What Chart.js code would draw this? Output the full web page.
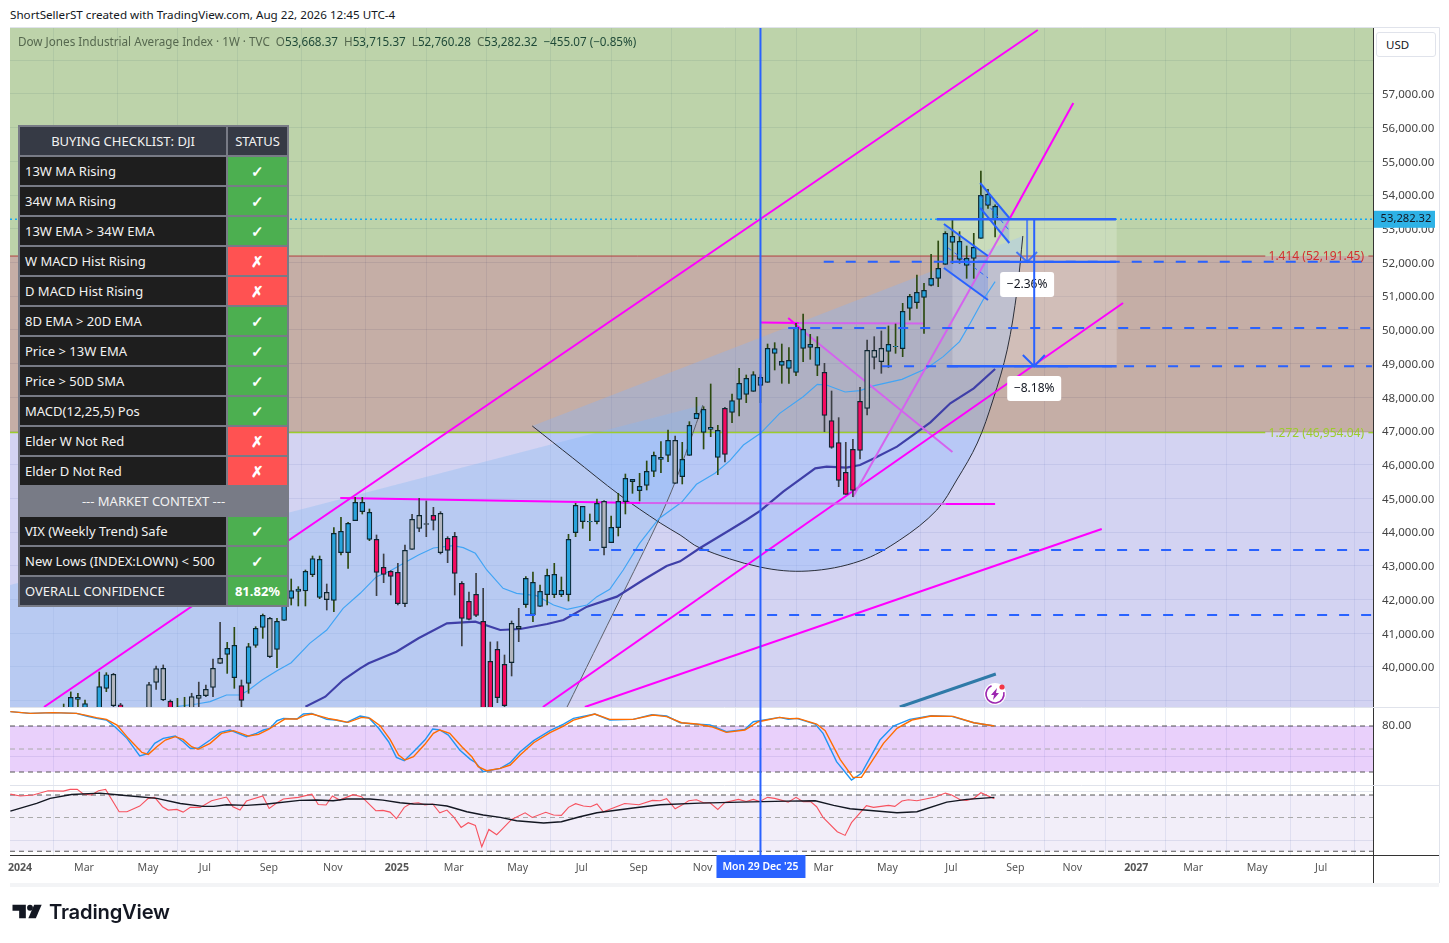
<!DOCTYPE html>
<html>
<head>
<meta charset="utf-8">
<title>DJI weekly</title>
<script src="https://cdn.jsdelivr.net/npm/chart.js@4"></script>
<style>
    html, body { margin: 0; padding: 0; background: #fff; width: 1449px; height: 943px; overflow: hidden; }
    body { font-family: "Noto Sans", sans-serif; position: relative; }
    canvas { position: absolute; left: 0; top: 0; }
    .frame { position: absolute; left: 10px; top: 883px; width: 1429px; height: 4px; background: #f3f4f6; }
    .topline { position: absolute; left: 10px; top: 7px; font-size: 11.65px; color: #131722; white-space: nowrap; }
    .legend { position: absolute; left: 18px; top: 33px; font-size: 11.7px; color: #56684f; white-space: nowrap; z-index: 2; }
    .legend b { font-weight: 400; color: #1f4a38; }
    .legend span { margin-left: 6px; }
    .usd { position: absolute; left: 1376px; top: 32px; width: 58px; height: 23px; border: 1px solid #e0e3eb; border-radius: 3px; background: #fff;
        font-size: 11.5px; line-height: 23px; color: #131722; text-indent: 9px; z-index: 2; }
    .logo { position: absolute; left: 12px; top: 899px; display: flex; align-items: center; z-index: 2; }
    .logo span { font-family: Inter, sans-serif; font-weight: 600; font-size: 20.2px; color: #131722; margin-left: 6px; letter-spacing: -0.2px; }
    table.check { position: absolute; left: 18px; top: 125px; width: 269px; border-collapse: collapse; table-layout: fixed; background: #787b86; z-index: 3;
        font-size: 13px; color: #f2f2f2; }
    table.check td { border: 2px solid #787b86; height: 28px; padding: 0 0 0 5px; white-space: nowrap; box-sizing: content-box; }
    table.check td.s { text-align: center; padding: 0; color: #fff; font-weight: 700; font-size: 15px; }
    table.check .head { background: #363a45; text-align: center; padding: 0; }
    table.check .row { background: #1e1e1e; }
    table.check .ok { background: #4caf50; }
    table.check .no { background: #ff5252; }
    table.check .sect { background: #787b86; text-align: center; padding: 0; }
    table.check .total { background: #363a45; }
</style>
</head>
<body>
<div class="topline">ShortSellerST created with TradingView.com, Aug 22, 2026 12:45 UTC-4</div>
<div class="legend">Dow Jones Industrial Average Index · 1W · TVC<span>O<b>53,668.37</b></span><span>H<b>53,715.37</b></span><span>L<b>52,760.28</b></span><span>C<b>53,282.32</b></span><span><b>−455.07 (−0.85%)</b></span></div>
<div class="usd">USD</div>
<div class="frame"></div>
<div class="logo">
    <svg width="31" height="15" viewBox="0 0 36 18"><path d="M0 1h16v16H8V8H0z" fill="#131722"/><circle cx="21" cy="4.5" r="3.5" fill="#131722"/><path d="M35 1l-7 16h-9l7-16z" fill="#131722"/></svg>
    <span>TradingView</span>
</div>
<table class="check" id="checklist"></table>
<canvas id="chart" width="1449" height="943"></canvas>
<script>
// weekly candles, index 0 = Mon 1 Jan 2024
const opens = [37400,37500,37700,37900,38000,38200,38400,38720,39040,38700,38300,38620,39365,38851,38880,38400,38100,38300,38600,39544,39020,38980,38500,38600,38620,39070,39150,39395,40108,40374,39682,39445,39514,40642,41176,40305,40523,41383,42036,42244,42254,42738,42066,41997,41977,43391,43391,44340,44607,43787,43787,42956,42838,42808,41878,43490,44113,44232,44351,44558,43461,43876,42482,41947,42155,41354,40167,40523,40078,40128,41136,41849,41552,41799,42145,42145,42145,42145,43985,44311,44301,44311,43540,43688,44133,44904,45498,45231,45389,45805,46161,46279,45449,45646,46279,47367,46962,47051,47021,46309,47555,47941,48089,48178,48356,48445,49306,48950,48861,48742,49454,49484,49484,48742,47308,46655,45775,46457,46427,47674,49187,49059,49365,49500,49444,50641,50809,50967,51323,51531,51946,52599,52095,51917,52125,52718,53697,53668];
const highs = [37800,37900,38100,38300,38500,38700,38900,39260,39220,39020,38700,39850,39830,39810,38920,38700,38500,38700,39544,40028,40060,39020,39070,39100,39220,39550,39465,40236,41324,40730,41176,39613,40700,41195,41571,41472,41443,42115,42610,42382,42877,43292,43292,42461,44133,44439,44291,45033,45033,44687,43916,43352,42857,43075,43619,44529,45003,44924,44736,44608,43866,43995,42531,42224,42778,42333,40741,40751,40355,41364,41740,42680,42818,42432,42907,43075,42669,43935,44855,44766,44539,44984,44934,44479,45152,45725,45567,45745,46111,46378,46685,47031,46853,46665,47278,48000,47723,48396,47169,47703,48099,48861,48663,48762,48670,49582,49622,49582,49474,50196,50473,49869,49800,49009,48188,47397,46665,46754,48297,49701,49800,49969,50117,50176,50789,51056,51630,51383,52243,52639,52916,53262,52916,52490,52866,54716,54172,53715];
const lows = [37100,37200,37500,37700,37800,38000,38200,38500,38700,38500,38100,38400,39267,38820,38200,38100,37800,38000,38400,39336,39000,38400,38300,38400,38400,38820,39120,39120,40108,39810,39366,38822,39218,40582,40849,40276,39979,41383,41838,41809,41809,42679,42026,41690,41640,43322,42926,44340,44538,43747,42116,42501,42135,41839,41789,43490,44014,43866,44064,43352,43095,42135,40622,41394,41492,38000,38200,38941,38800,39732,40751,41770,41344,41799,41839,42056,42086,41957,43866,44113,43747,44242,43322,43688,43886,44539,45152,44924,45251,45646,45765,46091,45449,45429,46279,47367,46467,46833,45706,46081,47248,47446,47842,48178,47842,48445,48811,48416,48416,48643,49058,49128,48643,46981,46487,45350,45122,45053,46170,47476,48841,48713,48890,49306,49207,50295,50641,49899,51304,51284,51946,51976,51976,51531,51531,52718,53608,52760];
const closes = [37500,37700,37900,38100,38300,38500,38600,39100,39100,38910,38600,39415,39770,39781,38400,38200,38300,38500,39475,39950,39960,38620,38700,38750,39120,39160,39336,39960,40256,40553,40642,39010,40602,41146,41532,41443,41354,42026,42264,42313,42837,43213,43193,42214,43965,44024,44261,44884,44884,44588,42808,42749,42689,41878,43461,44380,44499,44252,44499,43391,43817,42778,41443,41413,41532,38500,38500,39089,38852,41295,41206,42630,42511,42244,42719,42749,42274,43787,44796,44766,44321,44855,44914,44143,44914,45597,45567,45360,45805,46279,46220,46724,46724,46161,47169,47525,47644,47110,46220,47674,47901,48415,48564,48673,48594,49454,49444,49068,49098,50077,50018,49573,48950,47466,46517,45538,45122,45241,47881,49395,49395,49454,49573,49513,50552,50997,51116,51175,51531,51828,52866,52777,52629,52125,52451,53994,54023,53282];
// candle colouring from the strength script: b = strong, r = weak, g = neutral
const candleState = 'bbbbbbbbbbbbbgrrbbgggrbbgggggbbrbbbgbbbbbbbgbbbbbbrrrrggggrgrrrrrrrrrggbbbbbbbbbbbgbbbbbbbbbgbbbbbbrbbbbbbbbbbbbbrrrrrrgggbbbbbbbbbbbbbbbbbb'.split('');

// 13W and 34W averages, [week, price]
const ma13Weeks = [21.9,24.7,26.6,28.9,30.8,31.9,33.9,36,38,40.6,43,45.3,47.7,50,51.9,53.8,55.9,58,60.8,62.2,63.9,65.5,67.8,69.7,72.5,74.9,76.8,79.6,81,82.8,84.7,87,89.7,92.9,95,97.6,99.7,101.6,104,106.7,110,112,113.3,115.9,118,120,123.9,127.4,129.7,132,133.5,135.3,137];
const ma13Values = [38822,38901,38970,39168,39168,39297,39613,39890,40127,40701,41097,41740,42185,42679,42848,43075,43322,43530,43599,43540,43372,42877,42333,42185,42116,41839,41710,41839,42086,42303,42877,43668,44400,44885,45419,45745,46121,46586,46932,47525,48020,48386,48366,48158,48198,48346,48534,48860,49207,49652,50196,50888,51432];
const ma34Weeks = [40,42.8,45.3,47.7,48.9,52.8,55.9,59.9,63.9,67.4,70.2,74,76.3,79.6,83.8,87.5,90.8,92.7,95.5,99.7,102,104,107.2,111.7,113.3,116.1,118,120,123.2,125.5,127.9,130.7,134,137];
const ma34Values = [38822,39118,39613,39960,40108,40454,40850,41295,41344,41097,41127,41275,41394,41789,42086,42580,42996,43135,43530,44064,44361,44638,45201,45894,45943,45913,45992,46191,46537,46883,47259,47822,48267,48841];

// stochastic pane
const stochFastWeeks = [-1.5,1.3,4.5,7.8,9.2,10.6,12,13.2,14.9,16.7,17.7,18.8,20,21.7,22.8,23.8,24.9,26.6,28,29.4,31.7,33.1,34.1,35,36,36.9,38.8,39.7,40.9,43,44.2,45.8,47.7,48.9,50.3,51.7,52.8,53.9,55.2,56.8,57.9,58.9,60.1,61.7,63.2,63.9,65,67.4,68.8,70.2,72.1,74.4,76.3,77.7,80.7,82.8,86.1,88.7,90.8,92.7,94.6,96.9,99.2,101.8,103,103.9,106.7,107.9,109.1,111.7,112.8,114.7,116.8,118.2,120.8,122.7,125,128,130.9,134,136.9];
const stochFast = [98.7,96.5,97.4,96.5,93,90,87.8,79.1,63.9,40.9,43.5,57.4,63.9,66.9,59.5,50.9,50.9,61.7,71.7,74.8,66.1,70.4,74.8,76.9,86.9,90,89.1,95.6,96.5,88.7,87.8,84.8,93,90.9,77,59.5,39.1,34.8,46.5,61.7,76.1,74.8,68.2,48.7,36.5,32.6,20.4,24.8,32.2,46.5,60.9,73.9,82.6,90,95.6,87.8,88.7,94.8,93,84.3,82.6,81.3,72.6,75.6,85.6,86.9,91.3,88.7,90,82.6,70.4,33.5,9.5,18.2,61.7,80,88.7,93.5,92.6,84.3,80];
const stochSlowWeeks = [-1.5,1.3,4.5,7.8,9.2,10.6,12,13.5,15.1,17,17.9,19.1,20.3,21.7,22.8,24,24.9,26.6,28.2,29.9,32,33.4,34.8,36,37.1,38.8,39.9,40.9,43.2,44.4,46,47.9,49.1,50.5,51.9,53.1,54,55.2,56.8,58,58.9,60.3,62,63.4,64.3,65.5,67.4,68.8,70.2,72.1,74.4,76.3,77.7,80.7,82.8,86.1,88.9,90.8,92.9,95,97.1,99.2,101.8,103.7,104.9,106.7,108.1,109.3,111.9,113.1,115.2,117,118.2,121.3,123.2,125.3,128,131.1,134,136.9];
const stochSlow = [98.7,96.5,97.4,96.5,93.9,90.9,88.7,81.3,63.9,45.6,43,53,61.7,66.1,62.6,53,49.6,57.4,70.4,73.9,66.9,69.1,75.6,82.6,89.1,89.1,93.9,95.6,90,87.8,84.8,91.3,90,80.4,62.6,42.2,35.6,40,56.1,70.4,74.8,70.4,53,40,27,21.7,24.8,29.1,42.2,58.2,71.3,80,87.8,95.6,88.7,88.7,94.3,92.2,84.3,82.6,79.1,71.7,74.8,85.6,87.8,91.3,89.6,90,82.6,73.9,36.5,13,13,57.4,76.9,87.8,93,92.6,84.3,80];

// RSI pane
const rsiWeeks = [-1.5,-0.1,1.7,3.8,5.95,6.9,7.9,8.8,9.9,10.9,11.9,13.8,14.9,16.7,17.9,18.8,19.9,20.7,21.9,22.8,23.8,25.2,26.8,28.9,29.8,30.8,31.7,34,34.9,36,36.9,39,40.9,41.8,42.9,43.8,44.8,46.7,47.9,49.9,50.9,51.9,52.8,53.9,54.8,55.9,56.8,57.9,58.9,59.9,60.9,61.9,62.9,63.9,64.8,65.8,66.9,67.4,69,70.9,71.9,73.8,74.9,76,77,78,79.1,80.1,81,81.9,84.9,86.9,88.8,89.9,90.8,92,92.9,93.9,95,96,96.9,98,99,100.9,102,103,103.9,105,106,107.9,109,110,111,111.9,112.8,114.8,115.9,116.8,118.9,119.9,122,122.9,123.9,124.8,126,128.6,130,130.9,132.1,133,134,135,136.9];
const rsiValues = [70.8,69.1,70,73.8,73.5,75,75,70.8,70,73.8,75,55.1,55.1,60.2,67,67.9,59.6,56.6,57.2,54.8,59,59,64.9,68.2,59.6,56.6,64.6,69.1,58.1,63.1,66.4,67.9,70.8,61.6,61.1,69.1,65.5,70.3,68.5,56,56.3,54.8,48.9,59,62.5,63.1,61.1,62,54.2,56.6,50.1,41.2,45.4,43,24,39.4,34.7,38,48.3,54.2,50.1,54.6,52.2,51.9,59,62.3,60.2,59.6,62,55.1,62.5,61.4,65.2,64.9,66.7,57.8,60.8,64.9,65.8,63.1,63.1,57.2,63.4,66.1,64.3,66.1,64.3,67.9,67,63.7,67.9,64,64.3,59.6,50.1,37.4,34.1,45.4,60.5,59,60.8,59.9,64.6,65.8,64.9,68.2,71.7,70,65.8,65.2,67,72,66.7];
const rsiAvgWeeks = [-1.5,2.2,4.1,7.1,11.1,13.9,19.1,22.4,25.6,27.1,28.9,31.7,34.6,39.2,41.6,43.9,45.8,49.1,50.9,53.3,55.2,58,59.9,62.7,65,67.4,69.7,73.5,76,78.6,81,86.1,89.9,95.5,101.1,107.7,111.7,114.3,116.6,119.9,123.2,126,130.2,133,136.9];
const rsiAvg = [55.7,62.5,67,70.5,71.7,70,67,62.5,59.9,59.9,61.4,60.8,62,65.2,65.5,64.9,66.4,66.4,65.5,63.1,62,61.7,60.2,55.1,52.2,50.1,47.1,45.1,46.2,50.7,54.2,58.4,61.4,62.8,63.7,64.6,64.9,60.8,57.8,56,54.2,55.1,63.7,66.1,67.9];

// axis ticks
const tickWeeks = [0,9,18,26,35,44,53,61,70,79,87,96,105,113,122,131,140,148,157,165,174,183];
const tickLabels = ['2024','Mar','May','Jul','Sep','Nov','2025','Mar','May','Jul','Sep','Nov','2026','Mar','May','Jul','Sep','Nov','2027','Mar','May','Jul'];
const priceTicks = [39000,40000,41000,42000,43000,44000,45000,46000,47000,48000,49000,50000,51000,52000,53000,54000,55000,56000,57000,58000];

// fib levels and last price
const fib1414 = 52191.45;
const fib1272 = 46954.04;
const lastPrice = 53282.32;
const selectedWeek = 104;

// trend lines drawn on the chart, [week, price]
const channelTop = [[3.23,38812],[143,58899]];
const riseLineDim = [[117,45043],[139.1,53321]];
const riseLineBright = [[139.1,53321],[148,56733]];
const flatLineA = [[44.9,45013],[87.1,44865]];
const flatLineDim = [[87.1,44865],[130,44835]];
const flatLineB = [[130,44835],[137,44835]];
const pinkTopA = [[104,50220],[109.4,50206]];
const pinkTopDim = [[109.4,50206],[127.1,50190]];
const channelMid = [[73.4,38812],[155,50799]];
const channelLow = [[79.3,38812],[152,44094]];
const fallLineA = [[107.9,50354],[110,49968]];
const fallLineDim = [[110,49968],[131,46378]];
const tealLine = [[123.6,38812],[137.1,39791]];

// arc drawings and fan shading
const arcLine = [[71.9,47150],[77.6,46200],[84.2,45102],[89.9,44272],[92.7,43916],[95.5,43530],[103.9,42966],[110.7,42847],[118,43144],[123.6,43767],[128.8,44657],[131.6,45547],[134.5,46645],[136.7,47921],[138.7,49408],[140.1,51185],[140.9,52787]];
const greyCurve = [[76.8,38812],[84.2,41987],[89.5,44272],[92,45488],[95.9,47773]];
const fanLeft = [[-1.55,42432],[95.9,47773],[92,45488],[89.5,44272],[84.2,41987],[76.8,38812],[-1.55,38812]];

// measured levels, [from week, to week, price]
const dashLevels = [[112.9,189,52020],[107.9,190,50060],[121.1,190,48923],[79.9,190,43470],[70.9,190,41541]];
const solidLevels = [[128.8,154,lastPrice],[130.7,154,52020],[130.2,154.1,48923]];
const targetBox = [[131,lastPrice],[154.1,lastPrice],[154.1,48923],[131,48923]];
const arrowShortShaft = [[141.5,lastPrice],[141.5,52020]];
const arrowShortHead = [[140,52312],[141.5,52020],[142.9,52312]];
const arrowLongShaft = [[142.5,lastPrice],[142.5,48923]];
const arrowLongHead = [[140.9,49256],[142.5,48923],[144,49256]];
const flagOne = [[129.8,53143],[136,52193],[136,50888],[129.8,51838]];
const flagOneTop = [[129.8,53143],[136,52193]];
const flagOneLow = [[129.8,51838],[136,50888]];
const flagOneMid = [[130.4,52431],[136,51541]];
const flagTwo = [[134.9,54359],[139,53321],[139,52579],[134.9,53618]];
const flagTwoTop = [[134.9,54359],[139,53321]];
const flagTwoLow = [[134.9,53618],[139,52579]];
const flagTwoMid = [[134.9,53990],[139,52950]];
const percentNotes = [['−2.36%',141.5,51348],['−8.18%',142.5,48262]];

// checklist table
const checkLabels = ['13W MA Rising','34W MA Rising','13W EMA > 34W EMA','W MACD Hist Rising','D MACD Hist Rising','8D EMA > 20D EMA','Price > 13W EMA','Price > 50D SMA','MACD(12,25,5) Pos','Elder W Not Red','Elder D Not Red'];
const checkStatus = [1,1,1,0,0,1,1,1,1,0,0];
const contextLabels = ['VIX (Weekly Trend) Safe','New Lows (INDEX:LOWN) < 500'];
const confidence = '81.82%';

const MAG = '#ff00ff', MAG_DIM = '#d463ee', BLUE = '#2962ff';
const X_MIN = -1.55, X_MAX = 190.15;
const PRICE_MIN = 38812, PRICE_MAX = 58958;

function buildChecklist() {
    const t = document.getElementById('checklist');
    let html = '<colgroup><col style="width:208px"><col style="width:61px"></colgroup>';
    html += '<tr><td class="head">BUYING CHECKLIST: DJI</td><td class="head">STATUS</td></tr>';
    const mark = ok => `<td class="s ${ok ? 'ok' : 'no'}">${ok ? '✓' : '✗'}</td>`;
    const esc = s => s.replace(/</g, '&lt;').replace(/>/g, '&gt;');
    checkLabels.forEach((l, i) => { html += `<tr><td class="row">${esc(l)}</td>${mark(checkStatus[i])}</tr>`; });
    html += '<tr><td class="sect" colspan="2">--- MARKET CONTEXT ---</td></tr>';
    contextLabels.forEach(l => { html += `<tr><td class="row">${esc(l)}</td>${mark(1)}</tr>`; });
    html += `<tr><td class="total">OVERALL CONFIDENCE</td><td class="s ok" style="font-size:13px">${confidence}</td></tr>`;
    t.innerHTML = html;
}
buildChecklist();

const toXY = pts => pts.map(p => ({ x: p[0], y: p[1] }));
const zip = (xs, ys) => xs.map((x, i) => ({ x, y: ys[i] }));

function line(points, color, width, extra) {
    return Object.assign({
        type: 'line', data: points, yAxisID: 'price', xAxisID: 'x',
        borderColor: color, borderWidth: width, pointRadius: 0, fill: false, tension: 0
    }, extra || {});
}

function shape(points, color, yAxisID, tension) {
    return {
        type: 'line', data: points, yAxisID: yAxisID || 'price', xAxisID: 'x',
        borderWidth: 0, borderColor: 'transparent', backgroundColor: color,
        pointRadius: 0, fill: 'shape', tension: tension || 0
    };
}

const span = (y, a, b) => [{ x: a === undefined ? X_MIN : a, y }, { x: b === undefined ? X_MAX : b, y }];
const rect = (top, bottom) => [{ x: X_MIN, y: top }, { x: X_MAX, y: top }, { x: X_MAX, y: bottom }, { x: X_MIN, y: bottom }];

const bodyColors = { b: '#29a3dc', r: '#f50a5f', g: '#b2b5be' };
const wickColors = { b: '#2c4a10', r: '#3c3f44', g: '#3c3f44' };

const candleBodies = {
    type: 'bar', yAxisID: 'price', xAxisID: 'x', grouped: false, barThickness: 5,
    data: opens.map((o, i) => ({ x: i, y: [Math.min(o, closes[i]), Math.max(o, closes[i])] })),
    backgroundColor: candleState.map(s => bodyColors[s]),
    borderColor: '#0b2530', borderWidth: 1.2, borderSkipped: false
};
const candleWicks = {
    type: 'bar', yAxisID: 'price', xAxisID: 'x', grouped: false, barThickness: 1,
    data: opens.map((o, i) => ({ x: i, y: [lows[i], highs[i]] })),
    backgroundColor: candleState.map(s => wickColors[s]), borderWidth: 0
};

// first dataset ends up on top, the long arrow has to stay above the note boxes
const NOTE_LAYER = 2;
const datasets = [
    line(toXY(arrowLongShaft), BLUE, 2),
    line(toXY(arrowLongHead), BLUE, 2),
    line(toXY(arrowShortShaft), 'rgba(41,98,255,0.7)', 2),
    line(toXY(arrowShortHead), 'rgba(41,98,255,0.8)', 2),
    ...solidLevels.map(l => line(span(l[2], l[0], l[1]), BLUE, 2.4)),
    ...dashLevels.map(l => line(span(l[2], l[0], l[1]), BLUE, 2, { borderDash: [10, 12] })),
    line(toXY(flagOneTop), BLUE, 2),
    line(toXY(flagOneLow), BLUE, 2),
    line(toXY(flagOneMid), BLUE, 1, { borderDash: [4, 4] }),
    line(toXY(flagTwoTop), BLUE, 2),
    line(toXY(flagTwoLow), BLUE, 2),
    line(toXY(flagTwoMid), BLUE, 1, { borderDash: [4, 4] }),
    candleBodies,
    candleWicks,
    line(toXY(channelTop), MAG, 2),
    line(toXY(riseLineDim), MAG_DIM, 2),
    line(toXY(riseLineBright), MAG, 2),
    line(toXY(flatLineA), MAG, 2),
    line(toXY(flatLineDim), MAG_DIM, 2),
    line(toXY(flatLineB), MAG, 2),
    line(toXY(pinkTopA), MAG, 2),
    line(toXY(pinkTopDim), MAG_DIM, 2),
    line(toXY(channelMid), MAG, 2),
    line(toXY(channelLow), MAG, 2),
    line(toXY(fallLineA), MAG, 2),
    line(toXY(fallLineDim), MAG_DIM, 2),
    line(toXY(tealLine), '#2f7aa8', 3),
    line(zip(ma13Weeks, ma13Values), '#42a5f5', 1.2),
    line(zip(ma34Weeks, ma34Values), '#3f3fa8', 2.2),
    line(toXY(arcLine), '#2a2e39', 1, { tension: 0.35 }),
    line(toXY(greyCurve), '#5d606b', 1, { tension: 0.3 }),
    line(span(lastPrice), '#12a9f5', 1.5, { borderDash: [2, 3] }),
    line(span(fib1414, X_MIN, 175), '#b0413e', 1),
    line(span(fib1414, 189.5, X_MAX), '#b0413e', 1),
    line(span(fib1272, X_MIN, 175), '#9ccc2c', 1.5),
    line(span(fib1272, 189.5, X_MAX), '#9ccc2c', 1.5),
    shape(toXY(flagOne), 'rgba(41,98,255,0.2)'),
    shape(toXY(flagTwo), 'rgba(41,98,255,0.2)'),
    shape(toXY(targetBox), 'rgba(255,255,255,0.2)'),
    shape(toXY(arcLine), 'rgba(130,180,255,0.33)', 'price', 0.35),
    shape(toXY(fanLeft), 'rgba(135,185,240,0.35)'),
    shape(rect(PRICE_MAX, fib1414), 'rgba(90,145,42,0.4)'),
    shape(rect(fib1414, fib1272), 'rgba(110,52,32,0.4)'),
    shape(rect(fib1272, PRICE_MIN), 'rgba(145,145,222,0.4)'),

    line(zip(stochSlowWeeks, stochSlow), '#ff6d00', 1.4, { yAxisID: 'stoch' }),
    line(zip(stochFastWeeks, stochFast), '#2196f3', 1.4, { yAxisID: 'stoch' }),
    line(span(80), '#555', 1, { yAxisID: 'stoch', borderDash: [5, 4] }),
    line(span(50), '#aaa', 1, { yAxisID: 'stoch', borderDash: [5, 4] }),
    line(span(20), '#555', 1, { yAxisID: 'stoch', borderDash: [5, 4] }),
    shape(rect(80, 20), 'rgba(167,67,239,0.25)', 'stoch'),

    line(zip(rsiAvgWeeks, rsiAvg), '#131722', 1.4, { yAxisID: 'rsi' }),
    line(zip(rsiWeeks, rsiValues), '#f7525f', 1.1, { yAxisID: 'rsi' }),
    line(span(70), '#555', 1, { yAxisID: 'rsi', borderDash: [5, 4] }),
    line(span(50), '#aaa', 1, { yAxisID: 'rsi', borderDash: [5, 4] }),
    line(span(20), '#555', 1, { yAxisID: 'rsi', borderDash: [5, 4] }),
    shape(rect(70, 20), 'rgba(126,87,194,0.1)', 'rsi')
];

function fixedWidth(scale) { scale.width = 66; }

const overlay = {
    id: 'overlay',
    afterDatasetDraw(chart, args) {
        if (args.index !== NOTE_LAYER) return;
        const { ctx, scales } = chart;
        ctx.save();
        ctx.font = '12px "Noto Sans", sans-serif';
        ctx.textBaseline = 'middle';
        ctx.textAlign = 'center';
        percentNotes.forEach(n => {
            const px = scales.x.getPixelForValue(n[1]), py = scales.price.getPixelForValue(n[2]);
            ctx.fillStyle = '#fff';
            ctx.beginPath(); ctx.roundRect(px - 27, py - 12.5, 54, 25, 3); ctx.fill();
            ctx.fillStyle = '#131722';
            ctx.fillText(n[0], px, py);
        });
        ctx.restore();
    },
    afterDatasetsDraw(chart) {
        const { ctx, chartArea: a, scales } = chart;
        const x = scales.x, price = scales.price;
        ctx.save();
        ctx.font = '12px "Noto Sans", sans-serif';
        ctx.textBaseline = 'middle';
        ctx.textAlign = 'right';
        ctx.fillStyle = '#d32f2f';
        ctx.fillText('1.414 (52,191.45)', 1364, price.getPixelForValue(fib1414) + 1);
        ctx.fillStyle = '#9ccc2c';
        ctx.fillText('1.272 (46,954.04)', 1364, price.getPixelForValue(fib1272) + 1);

        // pane separators and outer frame
        ctx.strokeStyle = '#e0e3eb';
        ctx.lineWidth = 1;
        [scales.stoch.top, scales.rsi.top].forEach(y => {
            ctx.beginPath(); ctx.moveTo(a.left, y + 0.5); ctx.lineTo(1439, y + 0.5); ctx.stroke();
        });
        ctx.beginPath(); ctx.moveTo(a.left, a.top - 0.5); ctx.lineTo(1439.5, a.top - 0.5); ctx.lineTo(1439.5, 883); ctx.stroke();
        ctx.strokeStyle = '#333';
        ctx.beginPath(); ctx.moveTo(a.right + 0.5, a.bottom); ctx.lineTo(a.right + 0.5, 883); ctx.stroke();
        ctx.beginPath(); ctx.moveTo(a.right, a.bottom + 0.5); ctx.lineTo(1439, a.bottom + 0.5); ctx.stroke();

        // selected week
        const vx = x.getPixelForValue(selectedWeek);
        ctx.strokeStyle = BLUE;
        ctx.lineWidth = 2;
        ctx.beginPath(); ctx.moveTo(vx, a.top); ctx.lineTo(vx, a.bottom); ctx.stroke();

        // alert icon
        const ix = 995, iy = 694;
        ctx.fillStyle = '#fff';
        ctx.beginPath(); ctx.arc(ix, iy, 11, 0, Math.PI * 2); ctx.fill();
        ctx.strokeStyle = '#9c27b0';
        ctx.lineWidth = 1.6;
        ctx.beginPath(); ctx.arc(ix, iy, 9, -0.2, -1.25 * Math.PI / 2 + 2 * Math.PI); ctx.stroke();
        ctx.fillStyle = '#9c27b0';
        ctx.beginPath();
        ctx.moveTo(ix + 2, iy - 6); ctx.lineTo(ix - 4, iy + 1); ctx.lineTo(ix - 1, iy + 1);
        ctx.lineTo(ix - 2, iy + 6); ctx.lineTo(ix + 4, iy - 1); ctx.lineTo(ix + 1, iy - 1);
        ctx.closePath(); ctx.fill();
        ctx.fillStyle = '#f23645';
        ctx.beginPath(); ctx.arc(ix + 7, iy - 7, 2.6, 0, Math.PI * 2); ctx.fill();
        ctx.restore();
    },
    afterDraw(chart) {
        const { ctx, chartArea: a, scales } = chart;
        const vx = scales.x.getPixelForValue(selectedWeek);
        ctx.save();
        ctx.textBaseline = 'middle';
        ctx.textAlign = 'center';
        ctx.fillStyle = BLUE;
        ctx.fillRect(vx - 44, a.bottom, 89, 23);
        ctx.fillStyle = '#fff';
        ctx.font = '600 10.4px "Noto Sans", sans-serif';
        ctx.fillText("Mon 29 Dec '25", vx, a.bottom + 12);

        const py = scales.price.getPixelForValue(lastPrice);
        ctx.fillStyle = '#2eb2e6';
        ctx.fillRect(1374, py - 8.5, 61, 17);
        ctx.fillStyle = '#131722';
        ctx.font = '11.2px "Noto Sans", sans-serif';
        ctx.fillText('53,282.32', 1406, py);
        ctx.restore();
    }
};

new Chart(document.getElementById('chart'), {
    type: 'bar',
    data: { datasets },
    plugins: [overlay],
    options: {
        responsive: false,
        animation: false,
        devicePixelRatio: 1,
        layout: { padding: { left: 10, top: 28, right: 10, bottom: 60 } },
        plugins: { legend: { display: false }, tooltip: { enabled: false } },
        scales: {
            x: {
                type: 'linear', min: X_MIN, max: X_MAX, offset: false, position: 'bottom',
                afterBuildTicks: s => { s.ticks = tickWeeks.map(value => ({ value })); },
                afterFit: s => { s.height = 28; },
                grid: { color: 'rgba(120,140,190,0.16)', drawTicks: false },
                border: { color: '#333', width: 1 },
                ticks: {
                    autoSkip: false, maxRotation: 0, padding: 7, color: '#555', labelOffset: -1,
                    callback: v => tickLabels[tickWeeks.indexOf(v)],
                    font: c => ({ family: '"Noto Sans", sans-serif', size: 10.6, weight: (c.tick && /^\d/.test(c.tick.label)) ? '700' : '400' })
                }
            },
            price: {
                type: 'linear', position: 'right', stack: 'panes', stackWeight: 679,
                min: PRICE_MIN, max: PRICE_MAX, afterFit: fixedWidth,
                afterBuildTicks: s => { s.ticks = priceTicks.map(value => ({ value })); },
                grid: { color: 'rgba(100,120,170,0.16)', drawTicks: false },
                border: { color: '#333', width: 1 },
                ticks: {
                    autoSkip: false, padding: 9, color: '#444', labelOffset: 1,
                    font: { family: '"Noto Sans", sans-serif', size: 11.5 },
                    callback: v => (v >= 40000 && v <= 57000) ? v.toLocaleString('en-US', { minimumFractionDigits: 2 }) : ''
                }
            },
            stoch: {
                type: 'linear', position: 'right', stack: 'panes', stackWeight: 78,
                min: 3.05, max: 104.8, afterFit: fixedWidth,
                afterBuildTicks: s => { s.ticks = [{ value: 80 }, { value: 40 }]; },
                grid: { color: 'rgba(100,120,170,0.16)', drawTicks: false },
                border: { color: '#333', width: 1 },
                ticks: {
                    padding: 9, color: '#444', font: { family: '"Noto Sans", sans-serif', size: 11.5 },
                    callback: v => v === 80 ? '80.00' : ''
                }
            },
            rsi: {
                type: 'linear', position: 'right', stack: 'panes', stackWeight: 70,
                min: 16.67, max: 78.9, afterFit: fixedWidth,
                afterBuildTicks: s => { s.ticks = [{ value: 73 }, { value: 30 }]; },
                grid: { color: 'rgba(100,120,170,0.16)', drawTicks: false },
                border: { color: '#333', width: 1 },
                ticks: { padding: 9, callback: () => '' }
            }
        }
    }
});
</script>
</body>
</html>
